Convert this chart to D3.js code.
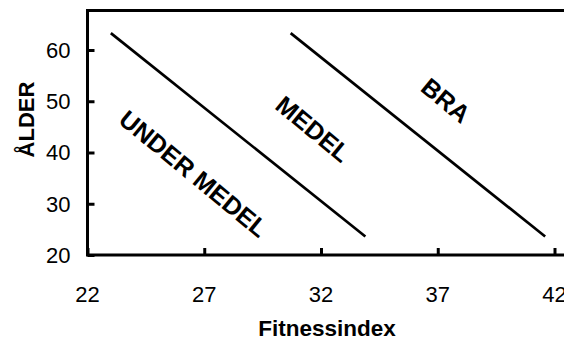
<!DOCTYPE html>
<html>
<head>
<meta charset="utf-8">
<script src="https://cdn.jsdelivr.net/npm/d3@7/dist/d3.min.js"></script>
<style>
  html, body { margin: 0; padding: 0; background: #fff; }
  svg { display: block; font-family: "Liberation Sans", Arial, sans-serif; }
</style>
</head>
<body>
<svg id="chart" width="564" height="340"></svg>
<script>
// Fitness index zones by age
const xTicks = [22, 27, 32, 37, 42];
const yTicks = [20, 30, 40, 50, 60];

// Zone boundary lines: [fitness index, age] at each end
const boundaryLow  = [[23.0, 63.3], [33.9, 23.6]];
const boundaryHigh = [[30.7, 63.3], [41.6, 23.6]];

// Zone labels with their anchor in data units
const zoneNames = ["UNDER MEDEL", "MEDEL", "BRA"];
const zoneX = [26.55, 31.67, 37.35];
const zoneY = [35.9, 44.6, 50.2];

const svg = d3.select("#chart");

const x = d3.scaleLinear().domain([22, 42]).range([87.5, 554.5]);
const y = d3.scaleLinear().domain([20, 60]).range([255, 50]);

const frameTop = y(67.7);
const frameRight = x(43);

// Frame: left, bottom and top edges (right edge lies beyond the view)
const frame = svg.append("g").attr("stroke", "#000").attr("stroke-width", 3).attr("fill", "none");
frame.append("path")
  .attr("d", `M${frameRight},${frameTop}H${x(22)}V${y(20)}H${frameRight}`)
  .attr("stroke-linejoin", "miter")
  .attr("stroke-linecap", "square");

// Y axis: inward ticks, labels to the left
const yAxis = svg.append("g").attr("transform", `translate(${x(22)},0)`)
  .call(d3.axisRight(y).tickValues(yTicks).tickSize(7).tickFormat(""));
yAxis.select(".domain").remove();
yAxis.selectAll(".tick line").attr("stroke", "#000").attr("stroke-width", 3);

svg.append("g").selectAll("text").data(yTicks).join("text")
  .attr("x", 70.5)
  .attr("y", d => y(d))
  .attr("dy", "0.36em")
  .attr("text-anchor", "end")
  .attr("font-size", 22)
  .attr("fill", "#000")
  .text(d => d);

// X axis: inward ticks, labels below
const xAxis = svg.append("g").attr("transform", `translate(0,${y(20)})`)
  .call(d3.axisTop(x).tickValues(xTicks).tickSize(7).tickFormat(""));
xAxis.select(".domain").remove();
xAxis.selectAll(".tick line").attr("stroke", "#000").attr("stroke-width", 3);

svg.append("g").selectAll("text").data(xTicks).join("text")
  .attr("x", d => x(d))
  .attr("y", 301.5)
  .attr("text-anchor", "middle")
  .attr("font-size", 22)
  .attr("fill", "#000")
  .text(d => d);

// Axis titles
svg.append("text")
  .attr("x", 327)
  .attr("y", 336)
  .attr("text-anchor", "middle")
  .attr("font-size", 22.5)
  .attr("font-weight", "bold")
  .text("Fitnessindex");

svg.append("text")
  .attr("transform", "translate(33.5,119.5) rotate(-90)")
  .attr("text-anchor", "middle")
  .attr("font-size", 22)
  .attr("font-weight", "bold")
  .text("ÅLDER");

// Boundary lines
const line = d3.line().x(d => x(d[0])).y(d => y(d[1]));
svg.append("g").selectAll("path").data([boundaryLow, boundaryHigh]).join("path")
  .attr("d", line)
  .attr("fill", "none")
  .attr("stroke", "#000")
  .attr("stroke-width", 2.7);

// Zone labels, tilted along the boundaries
const angle = 39.5;
svg.append("g").selectAll("text").data(zoneNames).join("text")
  .attr("transform", (d, i) => `translate(${x(zoneX[i])},${y(zoneY[i])}) rotate(${angle})`)
  .attr("text-anchor", "middle")
  .attr("dy", "0.36em")
  .attr("font-size", 25)
  .attr("font-weight", "bold")
  .attr("fill", "#000")
  .text(d => d);
</script>
</body>
</html>
